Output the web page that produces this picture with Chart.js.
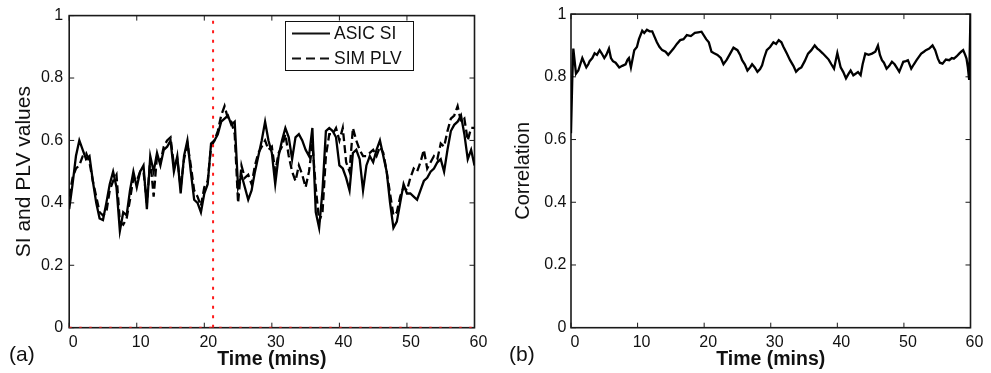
<!DOCTYPE html>
<html>
<head>
<meta charset="utf-8">
<script src="https://cdn.jsdelivr.net/npm/chart.js@4.4.1/dist/chart.umd.min.js"></script>
<style>
body { margin: 0; background: #fff; width: 991px; height: 373px; overflow: hidden; position: relative; font-family: "Liberation Sans", Arial, sans-serif; }
canvas { position: absolute; top: 0; }
#chart-a { left: 0; }
#chart-b { left: 495px; }
.panel-tag { position: absolute; font-size: 21px; color: #111; line-height: 24px; }
</style>
</head>
<body>
<canvas id="chart-a" width="495" height="373"></canvas>
<canvas id="chart-b" width="496" height="373"></canvas>
<div class="panel-tag" style="left:9px; top:342px">(a)</div>
<div class="panel-tag" style="left:509px; top:342px">(b)</div>
<script>
const font_family = '"Liberation Sans", Arial, sans-serif';

// panel (a): time in minutes, half-minute steps
const time_a = [
    0, 0.5, 1, 1.5, 2, 2.5, 3, 3.5, 4, 4.5, 5, 5.5, 6, 6.5, 7, 7.5, 8, 8.5, 9, 9.5,
    10, 10.5, 11, 11.5, 12, 12.5, 13, 13.5, 14, 14.5, 15, 15.5, 16, 16.5, 17, 17.5, 18, 18.5, 19, 19.5,
    20, 20.5, 21, 21.5, 22, 22.5, 23, 23.5, 24, 24.5, 25, 25.5, 26, 26.5, 27, 27.5, 28, 28.5, 29, 29.5,
    30, 30.5, 31, 31.5, 32, 32.5, 33, 33.5, 34, 34.5, 35, 35.5, 36, 36.5, 37, 37.5, 38, 38.5, 39, 39.5,
    40, 40.5, 41, 41.5, 42, 42.5, 43, 43.5, 44, 44.5, 45, 45.5, 46, 46.5, 47, 47.5, 48, 48.5, 49, 49.5,
    50, 50.5, 51, 51.5, 52, 52.5, 53, 53.5, 54, 54.5, 55, 55.5, 56, 56.5, 57, 57.5, 58, 58.5, 59, 59.5, 60
];
const asic_si = [
    0.38, 0.46, 0.55, 0.60, 0.57, 0.54, 0.55, 0.47, 0.40, 0.35, 0.345, 0.40, 0.46, 0.50, 0.45, 0.31, 0.37, 0.36, 0.44, 0.50,
    0.45, 0.50, 0.52, 0.38, 0.55, 0.50, 0.56, 0.52, 0.57, 0.58, 0.60, 0.50, 0.55, 0.43, 0.55, 0.60, 0.50, 0.41, 0.40, 0.37,
    0.43, 0.46, 0.59, 0.60, 0.62, 0.66, 0.67, 0.68, 0.65, 0.66, 0.45, 0.49, 0.45, 0.41, 0.44, 0.50, 0.55, 0.60, 0.66, 0.60,
    0.56, 0.46, 0.55, 0.60, 0.64, 0.61, 0.54, 0.61, 0.62, 0.60, 0.57, 0.55, 0.64, 0.37, 0.32, 0.44, 0.63, 0.64, 0.63, 0.61,
    0.52, 0.51, 0.48, 0.44, 0.56, 0.57, 0.54, 0.44, 0.52, 0.55, 0.53, 0.57, 0.60, 0.55, 0.50, 0.40, 0.32, 0.34, 0.40, 0.46,
    0.43, 0.43, 0.42, 0.41, 0.44, 0.47, 0.48, 0.50, 0.51, 0.53, 0.54, 0.50, 0.57, 0.63, 0.65, 0.66, 0.68, 0.62, 0.54, 0.57, 0.52
];
const sim_plv = [
    0.42, 0.48, 0.51, 0.52, 0.55, 0.56, 0.53, 0.47, 0.42, 0.37, 0.36, 0.37, 0.44, 0.47, 0.49, 0.34, 0.33, 0.35, 0.41, 0.48,
    0.47, 0.50, 0.50, 0.40, 0.54, 0.42, 0.55, 0.53, 0.58, 0.60, 0.61, 0.52, 0.54, 0.45, 0.54, 0.59, 0.52, 0.44, 0.42, 0.39,
    0.45, 0.47, 0.58, 0.60, 0.63, 0.68, 0.71, 0.67, 0.66, 0.62, 0.40, 0.52, 0.48, 0.49, 0.46, 0.52, 0.56, 0.58, 0.60, 0.57,
    0.58, 0.50, 0.56, 0.58, 0.62, 0.55, 0.50, 0.47, 0.52, 0.49, 0.45, 0.50, 0.59, 0.45, 0.34, 0.37, 0.55, 0.62, 0.62, 0.64,
    0.60, 0.64, 0.53, 0.50, 0.64, 0.60, 0.57, 0.55, 0.55, 0.56, 0.57, 0.55, 0.58, 0.56, 0.50, 0.43, 0.36, 0.37, 0.42, 0.45,
    0.44, 0.48, 0.51, 0.50, 0.53, 0.57, 0.51, 0.53, 0.55, 0.54, 0.59, 0.58, 0.63, 0.67, 0.68, 0.71, 0.66, 0.67, 0.60, 0.64, 0.64
];
const marker_time = 21.3;

// panel (b): correlation
const time_b = [
    0, 0.2, 0.35, 0.5, 0.75, 1.1, 1.4, 1.7, 2.0, 2.3, 2.6, 2.8, 3.2, 3.55, 3.9, 4.3, 4.6, 5.0, 5.3, 5.7,
    6.0, 6.3, 6.7, 7.25, 7.7, 8.2, 8.5, 8.7, 9.0, 9.5, 9.9, 10.2, 10.7, 11.0, 11.4, 11.8, 12.2, 12.6, 12.9, 13.3,
    13.7, 14.2, 14.6, 15.0, 15.4, 15.9, 16.4, 16.9, 17.4, 18.0, 18.6, 19.1, 19.6, 20.3, 20.7, 21.1, 21.5, 22.0, 22.5, 22.9,
    23.4, 23.8, 24.4, 25.0, 25.4, 25.7, 26.1, 26.5, 26.9, 27.2, 27.6, 28.0, 28.4, 28.7, 29.0, 29.4, 29.9, 30.4, 30.8, 31.2,
    31.6, 31.9, 32.4, 32.9, 33.4, 33.8, 34.2, 34.6, 35.1, 35.6, 36.1, 36.6, 37.0, 37.3, 37.8, 38.3, 38.7, 39.1, 39.5, 40.0,
    40.5, 40.9, 41.3, 41.7, 42.0, 42.4, 42.75, 43.1, 43.5, 43.8, 44.2, 44.7, 45.2, 45.7, 46.1, 46.4, 46.7, 47.0, 47.4, 47.8,
    48.2, 48.6, 48.9, 49.3, 49.9, 50.3, 50.6, 51.1, 51.5, 51.9, 52.3, 52.6, 53.0, 53.3, 53.8, 54.3, 54.7, 55.1, 55.4, 55.8,
    56.3, 56.8, 57.2, 57.5, 57.9, 58.3, 58.6, 58.9, 59.2, 59.4, 59.6, 59.8, 60.0
];
const correlation = [
    0.62, 0.80, 0.89, 0.86, 0.81, 0.82, 0.84, 0.86, 0.845, 0.83, 0.84, 0.85, 0.86, 0.875, 0.87, 0.885, 0.875, 0.86, 0.87, 0.89,
    0.86, 0.85, 0.845, 0.83, 0.835, 0.84, 0.855, 0.86, 0.83, 0.885, 0.895, 0.92, 0.947, 0.94, 0.95, 0.945, 0.945, 0.925, 0.91, 0.895,
    0.885, 0.88, 0.87, 0.88, 0.89, 0.905, 0.917, 0.92, 0.933, 0.93, 0.94, 0.942, 0.944, 0.92, 0.91, 0.88, 0.875, 0.87, 0.86, 0.84,
    0.855, 0.87, 0.893, 0.885, 0.87, 0.853, 0.84, 0.82, 0.83, 0.84, 0.83, 0.816, 0.825, 0.837, 0.86, 0.885, 0.895, 0.91, 0.905, 0.917,
    0.91, 0.896, 0.875, 0.853, 0.835, 0.816, 0.825, 0.83, 0.85, 0.874, 0.885, 0.90, 0.89, 0.885, 0.875, 0.864, 0.855, 0.84, 0.826, 0.876,
    0.83, 0.815, 0.795, 0.81, 0.82, 0.805, 0.81, 0.815, 0.805, 0.84, 0.874, 0.87, 0.874, 0.88, 0.90, 0.87, 0.853, 0.845, 0.826, 0.835,
    0.848, 0.84, 0.83, 0.816, 0.848, 0.85, 0.853, 0.826, 0.84, 0.853, 0.865, 0.874, 0.88, 0.885, 0.89, 0.90, 0.885, 0.858, 0.845, 0.842,
    0.855, 0.853, 0.86, 0.858, 0.865, 0.874, 0.88, 0.885, 0.87, 0.858, 0.83, 0.79, 1.0
];

const to_points = (xs, ys) => xs.map((x, i) => ({x: x, y: ys[i]}));

// box round the plot area plus inward tick marks on all four sides
const frame_plugin = {
    id: 'frame',
    beforeDatasetsDraw(chart) {
        const {ctx, chartArea: a, scales: {x, y}} = chart;
        ctx.save();
        ctx.strokeStyle = '#1a1a1a';
        ctx.lineWidth = 1;
        ctx.beginPath();
        x.ticks.forEach(t => {
            const px = x.getPixelForValue(t.value);
            ctx.moveTo(px, a.bottom); ctx.lineTo(px, a.bottom - 5);
            ctx.moveTo(px, a.top); ctx.lineTo(px, a.top + 5);
        });
        y.ticks.forEach(t => {
            const py = y.getPixelForValue(t.value);
            ctx.moveTo(a.left, py); ctx.lineTo(a.left + 5, py);
            ctx.moveTo(a.right, py); ctx.lineTo(a.right - 5, py);
        });
        ctx.stroke();
        ctx.lineWidth = 1.6;
        ctx.strokeRect(a.left, a.top, a.right - a.left, a.bottom - a.top);
        ctx.restore();
    }
};

// legend box of panel (a)
const legend_plugin = {
    id: 'legend_box',
    afterDatasetsDraw(chart) {
        const ctx = chart.ctx;
        ctx.save();
        ctx.fillStyle = '#fff';
        ctx.fillRect(285, 21, 129, 50);
        ctx.strokeStyle = '#111';
        ctx.lineWidth = 1;
        ctx.strokeRect(285.5, 21.5, 128, 49);
        ctx.lineWidth = 2;
        ctx.beginPath();
        ctx.moveTo(292, 33.5); ctx.lineTo(330, 33.5);
        ctx.stroke();
        ctx.setLineDash([9, 5]);
        ctx.beginPath();
        ctx.moveTo(292, 58.5); ctx.lineTo(330, 58.5);
        ctx.stroke();
        ctx.setLineDash([]);
        ctx.fillStyle = '#111';
        ctx.font = '17.5px ' + font_family;
        ctx.textBaseline = 'middle';
        ctx.fillText('ASIC SI', 334, 34);
        ctx.fillText('SIM PLV', 334, 59);
        ctx.restore();
    }
};

function make_options(y_title, y_title_size, axis_width, right_pad, tick_pad, title_pad) {
    return {
        responsive: false,
        animation: false,
        layout: {padding: {top: 14, right: right_pad, bottom: 0, left: 0}},
        plugins: {legend: {display: false}, tooltip: {enabled: false}},
        scales: {
            x: {
                type: 'linear', min: 0, max: 60,
                grid: {display: false, drawTicks: false},
                border: {display: false},
                ticks: {stepSize: 10, padding: 5, labelOffset: 4, maxRotation: 0, color: '#111',
                        font: {family: font_family, size: 16}},
                title: {display: true, text: 'Time (mins)', color: '#111',
                        font: {family: font_family, size: 19.5, weight: 'bold'}, padding: {top: 0, bottom: 2}},
                afterFit: s => { s.height = 45.3; }
            },
            y: {
                min: 0, max: 1,
                grid: {display: false, drawTicks: false},
                border: {display: false},
                ticks: {stepSize: 0.2, padding: tick_pad, color: '#111',
                        font: {family: font_family, size: 16},
                        callback: v => String(Math.round(v * 10) / 10)},
                title: {display: true, text: y_title, color: '#111',
                        font: {family: font_family, size: y_title_size}, padding: {top: title_pad, bottom: 0}},
                afterFit: s => { s.width = axis_width; }
            }
        }
    };
}

new Chart(document.getElementById('chart-a'), {
    type: 'line',
    data: {
        datasets: [
            {data: [{x: marker_time, y: 0}, {x: marker_time, y: 1}], borderColor: '#ff1a1a', borderWidth: 2,
             borderDash: [3, 6.5], pointRadius: 0, tension: 0},
            {data: [{x: 0, y: 0}, {x: 60, y: 0}], borderColor: '#ff1a1a', borderWidth: 2,
             borderDash: [2.5, 7.5], pointRadius: 0, tension: 0},
            {label: 'ASIC SI', data: to_points(time_a, asic_si), borderColor: '#000', borderWidth: 2.3,
             pointRadius: 0, tension: 0},
            {label: 'SIM PLV', data: to_points(time_a, sim_plv), borderColor: '#000', borderWidth: 2.3,
             borderDash: [8, 4], pointRadius: 0, tension: 0}
        ]
    },
    options: make_options('SI and PLV values', 21, 69.2, 20.5, 6, 12),
    plugins: [frame_plugin, legend_plugin]
});

new Chart(document.getElementById('chart-b'), {
    type: 'line',
    data: {
        datasets: [
            {label: 'Correlation', data: to_points(time_b, correlation), borderColor: '#000', borderWidth: 2.3,
             pointRadius: 0, tension: 0}
        ]
    },
    options: make_options('Correlation', 20, 76, 20.5, 4.5, 16),
    plugins: [frame_plugin]
});
</script>
</body>
</html>
